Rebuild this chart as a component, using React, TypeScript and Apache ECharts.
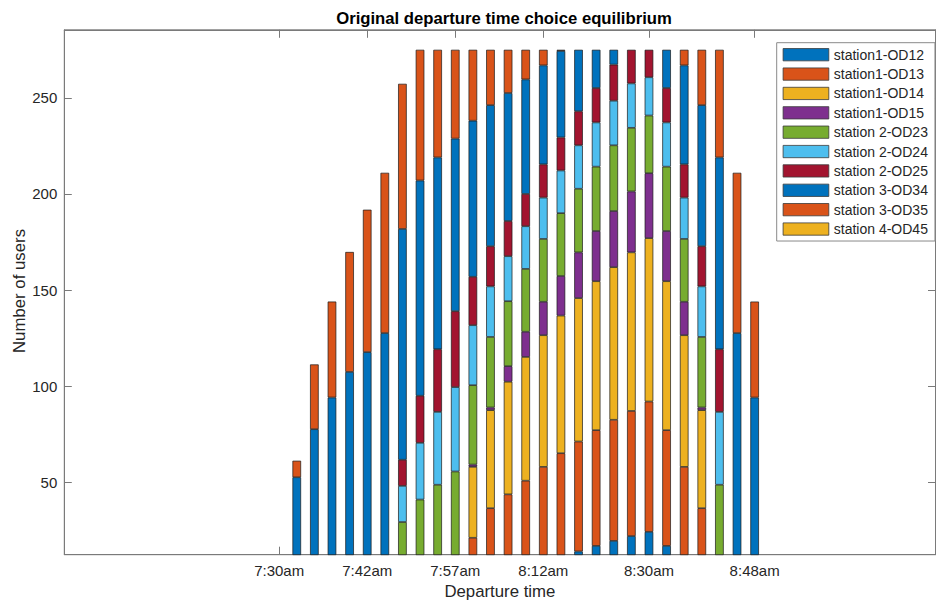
import React, { useEffect, useRef } from 'react';
import * as echarts from 'echarts';

// Bar slots (departure intervals) and x tick positions/labels
const slots = [1, 2, 3, 4, 5, 6, 7, 8, 9, 10, 11, 12, 13, 14, 15, 16, 17, 18, 19, 20, 21, 22, 23, 24, 25, 26, 27];
const tickSlots = [0, 5, 10, 15, 21, 27];
const tickLabels = ['7:30am', '7:42am', '7:57am', '8:12am', '8:30am', '8:48am'];
const yTicks = [50, 100, 150, 200, 250];

const seriesNames = [
  'station1-OD12', 'station1-OD13', 'station1-OD14', 'station1-OD15',
  'station 2-OD23', 'station 2-OD24', 'station 2-OD25',
  'station 3-OD34', 'station 3-OD35', 'station 4-OD45',
];
const seriesColors = [
  '#0072BD', '#D95319', '#EDB120', '#7E2F8E', '#77AC30', '#4DBEEE', '#A2142F',
  '#0072BD', '#D95319', '#EDB120',
];

const _ = null;
// Number of users per OD pair in each slot (stacked bottom to top)
const od12 = [_, _, _, _, _, _, _, _, _, _, _, _, _, _, _, _, 14.0, 16.9, 19.5, 22.0, 24.2, 16.9, _, _, _, _, _];
const od13 = [_, _, _, _, _, _, _, _, _, _, 21.1, 36.5, 43.7, 50.8, 58.0, 65.1, 57.2, 60.2, 63.0, 65.1, 67.8, 60.2, 58.0, 36.5, _, _, _];
const od14 = [_, _, _, _, _, _, _, _, _, _, 36.9, 51.0, 58.6, 64.4, 68.5, 71.6, 74.6, 77.5, 79.4, 82.5, 85.0, 77.5, 68.5, 51.0, _, _, _];
const od15 = [_, _, _, _, _, _, _, _, _, _, 1.2, 1.4, 8.1, 13.1, 17.4, 20.6, 23.8, 26.1, 29.2, 31.7, 33.8, 26.1, 17.4, 1.4, _, _, _];
const od23 = [_, _, _, _, _, _, 29.3, 41.0, 48.7, 55.6, 41.3, 36.7, 33.8, 32.7, 32.7, 32.7, 33.1, 33.5, 34.2, 33.1, 30.0, 33.5, 32.7, 36.7, 48.7, _, _];
const od24 = [_, _, _, _, _, _, 18.8, 29.5, 37.9, 43.9, 31.2, 26.3, 23.4, 22.2, 21.5, 22.2, 22.6, 23.0, 23.2, 23.1, 19.9, 23.0, 21.5, 26.3, 37.9, _, _];
const od25 = [_, _, _, _, _, _, 13.6, 24.5, 32.6, 39.5, 25.2, 20.9, 18.3, 16.8, 17.3, 17.2, 17.7, 17.9, 18.8, 17.5, 14.3, 17.9, 17.3, 20.9, 32.6, _, _];
const od34 = [52.6, 77.6, 94.1, 107.4, 117.7, 127.6, 120.1, 112.0, 99.8, 89.8, 81.2, 73.4, 66.6, 59.6, 51.5, 45.0, 32.0, 19.9, 7.7, _, _, 19.9, 51.5, 73.4, 99.8, 127.6, 94.1];
const od35 = [8.6, 33.7, 49.9, 62.4, 74.1, 83.4, 75.5, 68.0, 56.0, 46.2, 36.9, 28.8, 22.5, 15.4, 8.1, 0.6, _, _, _, _, _, _, 8.1, 28.8, 56.0, 83.4, 49.9];
const od45 = [_, _, _, _, _, _, _, _, _, _, _, _, _, _, _, _, _, _, _, _, _, _, _, _, _, _, _];

export default function App() {
  const ref = useRef<HTMLDivElement>(null);
  useEffect(() => {
    if (!ref.current) return;
    const chart = echarts.init(ref.current, null, { renderer: 'svg' });
    const font = 'Liberation Sans, Arial, Helvetica, sans-serif';
    const textColor = '#262626';
    const axisColor = '#7a7a7a';
    const allData = [od12, od13, od14, od15, od23, od24, od25, od34, od35, od45];
    const series = allData.map((vals, i) => ({
      name: seriesNames[i],
      type: 'bar',
      stack: 'total',
      barWidth: 8.6,
      silent: true,
      emphasis: { disabled: true },
      itemStyle: { color: seriesColors[i], borderColor: '#1a1a1a', borderWidth: 0.7 },
      // value first so that the stacked dimension is the y value
      encode: { x: 1, y: 0 },
      dimensions: [
        { name: 'users', type: 'float' },
        { name: 'slot', type: 'float' },
      ],
      data: vals.map((v, j) => [v == null ? '-' : v, slots[j]]),
    }));

    const xMin = -12.2;
    const xMax = 37.27;
    const yMin = 12.3;
    const yMax = 285.4;

    chart.setOption({
      animation: false,
      backgroundColor: '#ffffff',
      grid: {
        left: 64.3, right: 1.5, top: 29.8, bottom: 50.3,
        show: true, borderColor: axisColor, borderWidth: 1,
        outerBoundsMode: 'none',
      },
      legend: {
        orient: 'vertical',
        left: 776.7,
        top: 42.7,
        padding: [5, 7, 5, 6],
        backgroundColor: '#ffffff',
        borderColor: '#8a8a8a',
        borderWidth: 1,
        borderRadius: 0,
        icon: 'rect',
        itemWidth: 45.7,
        itemHeight: 12.3,
        itemGap: 5.37,
        selectedMode: false,
        itemStyle: { borderWidth: 0.8, borderColor: '#3a3a3a' },
        textStyle: { fontSize: 14, fontFamily: font, color: textColor, lineHeight: 12.3 },
        data: seriesNames,
      },
      graphic: [
        {
          type: 'text',
          x: 504,
          y: 18,
          silent: true,
          style: {
            text: 'Original departure time choice equilibrium',
            fontSize: 16.7,
            fontWeight: 'bold',
            fontFamily: font,
            fill: '#000000',
            align: 'center',
            verticalAlign: 'middle',
          },
        },
        {
          type: 'text',
          x: 19,
          y: 291,
          rotation: Math.PI / 2,
          silent: true,
          style: {
            text: 'Number of users',
            fontSize: 16.8,
            fontFamily: font,
            fill: textColor,
            align: 'center',
            verticalAlign: 'middle',
          },
        },
      ],
      xAxis: [
        {
          type: 'value',
          min: xMin,
          max: xMax,
          position: 'bottom',
          axisLine: { show: true, onZero: false, lineStyle: { color: axisColor, width: 1 } },
          axisTick: { show: true, inside: true, length: 8, customValues: tickSlots, lineStyle: { color: axisColor } },
          axisLabel: {
            show: true,
            customValues: tickSlots,
            formatter: (v: number) => {
              const k = tickSlots.indexOf(Math.round(v));
              return k >= 0 ? tickLabels[k] : '';
            },
            color: textColor,
            fontSize: 15,
            fontFamily: font,
            margin: 8,
          },
          splitLine: { show: false },
          name: 'Departure time',
          nameLocation: 'middle',
          nameGap: 28,
          nameTextStyle: { fontSize: 16.8, fontFamily: font, color: textColor },
        },
        {
          type: 'value',
          min: xMin,
          max: xMax,
          position: 'top',
          axisLine: { show: true, onZero: false, lineStyle: { color: axisColor, width: 1 } },
          axisTick: { show: true, inside: true, length: 8, customValues: tickSlots, lineStyle: { color: axisColor } },
          axisLabel: { show: false },
          splitLine: { show: false },
        },
      ],
      yAxis: [
        {
          type: 'value',
          min: yMin,
          max: yMax,
          position: 'left',
          axisLine: { show: true, onZero: false, lineStyle: { color: axisColor, width: 1 } },
          axisTick: { show: true, inside: true, length: 7.5, customValues: yTicks, lineStyle: { color: axisColor } },
          axisLabel: {
            show: true,
            customValues: yTicks,
            color: textColor,
            fontSize: 15,
            fontFamily: font,
            margin: 7,
          },
          splitLine: { show: false },
        },
        {
          type: 'value',
          min: yMin,
          max: yMax,
          position: 'right',
          axisLine: { show: true, onZero: false, lineStyle: { color: axisColor, width: 1 } },
          axisTick: { show: true, inside: true, length: 7.5, customValues: yTicks, lineStyle: { color: axisColor } },
          axisLabel: { show: false },
          splitLine: { show: false },
        },
      ],
      series,
    });
    return () => {
      chart.dispose();
    };
  }, []);
  return (
    <div
      ref={ref}
      style={{ position: 'fixed', left: 0, top: 0, width: 937, height: 605, background: '#ffffff' }}
    />
  );
}
